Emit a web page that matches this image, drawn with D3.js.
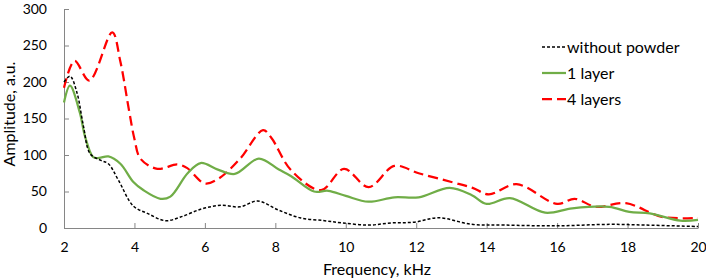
<!DOCTYPE html>
<html>
<head>
<meta charset="utf-8">
<script src="https://cdn.jsdelivr.net/npm/d3@7"></script>
<style>
  body { margin: 0; background: #fff; }
  text { font-family: Lato, "Open Sans", sans-serif; fill: #000; }
</style>
</head>
<body>
<div id="chart"></div>
<script>
// Data
const freqNoPowder = [2.0, 2.17, 2.37, 2.55, 2.74, 3.03, 3.26, 3.54, 3.97, 4.37, 4.88, 5.31, 5.9, 6.45, 7.0, 7.5, 8.07, 8.7, 9.4, 9.9, 10.64, 11.3, 11.95, 12.63, 13.58, 14.5, 16.0, 17.5, 18.5, 20.0]
const ampNoPowder = [200, 208, 185, 140, 102, 93, 88, 66, 30, 20, 10, 15, 26, 31, 29, 37, 25, 14, 10, 7, 4, 7, 8, 14, 5, 4, 3, 5, 4, 2]

const freq1Layer = [2.0, 2.17, 2.45, 2.6, 2.83, 3.0, 3.26, 3.6, 3.97, 4.25, 4.74, 5.02, 5.51, 5.88, 6.37, 6.85, 7.53, 8.1, 8.45, 9.1, 9.5, 10.0, 10.64, 11.38, 12.07, 12.95, 13.58, 14.0, 14.66, 15.66, 16.43, 17.48, 18.05, 18.63, 19.5, 20.0]
const amp1Layer = [172, 195, 158, 125, 97, 96, 98, 88, 63, 52, 40, 43, 75, 89, 80, 74, 95, 80, 71, 50, 51, 44, 36, 42, 42, 55, 45, 33, 41, 21, 27, 29, 22, 20, 10, 11]

const freq4Layers = [2.0, 2.3, 2.72, 3.37, 3.6, 3.85, 4.0, 4.17, 4.65, 5.22, 5.5, 6.0, 6.4, 7.0, 7.65, 7.88, 8.45, 9.3, 9.95, 10.65, 11.38, 12.07, 13.0, 13.6, 14.06, 14.85, 16.0, 16.5, 17.1, 17.95, 19.0, 20.0]
const amp4Layers = [192, 229, 202, 268, 228, 160, 122, 95, 81, 87, 82, 61, 68, 95, 134, 124, 79, 52, 81, 56, 85, 75, 63, 55, 46, 60, 33, 40, 29, 34, 15, 14]

const xTicks = [2, 4, 6, 8, 10, 12, 14, 16, 18, 20]
const yTicks = [0, 50, 100, 150, 200, 250, 300]

const series = [
  { name: 'without powder', x: freqNoPowder, y: ampNoPowder, color: '#000', width: 1.5, dash: '3,2' },
  { name: '1 layer', x: freq1Layer, y: amp1Layer, color: '#70ad47', width: 2.25, dash: null },
  { name: '4 layers', x: freq4Layers, y: amp4Layers, color: '#ff0000', width: 2.25, dash: '10,5' },
]

// Dimensions
const width = 706, height = 279
const margin = { top: 9, right: 8, bottom: 51, left: 64 }

const svg = d3.select('#chart').append('svg')
  .attr('width', width)
  .attr('height', height)

const xScale = d3.scaleLinear().domain([2, 20]).range([margin.left, width - margin.right])
const yScale = d3.scaleLinear().domain([0, 300]).range([height - margin.bottom, margin.top])

// Axes
const xAxis = d3.axisBottom(xScale).tickValues(xTicks).tickSize(-5).tickPadding(14).tickSizeOuter(0)
const xg = svg.append('g')
  .attr('transform', `translate(0,${yScale(0)})`)
  .call(xAxis)
const yAxis = d3.axisLeft(yScale).tickValues(yTicks).tickSize(-5).tickPadding(17).tickSizeOuter(0)
const yg = svg.append('g')
  .attr('transform', `translate(${xScale(2)},0)`)
  .call(yAxis)

for (const g of [xg, yg]) {
  g.select('.domain').attr('stroke', '#868686')
  g.selectAll('.tick line').attr('stroke', '#868686')
  g.selectAll('.tick text').attr('font-size', 14).attr('fill', '#000')
    .style('font-family', 'Lato, "Open Sans", sans-serif')
}

// Lines
const line = d3.line().curve(d3.curveCatmullRom.alpha(0.5))
svg.append('g').selectAll('path')
  .data(series.slice().reverse())
  .join('path')
  .attr('d', s => line(s.x.map((f, i) => [xScale(f), yScale(s.y[i])])))
  .attr('fill', 'none')
  .attr('stroke', s => s.color)
  .attr('stroke-width', s => s.width)
  .attr('stroke-dasharray', s => s.dash)

// Axis titles
svg.append('text')
  .attr('x', 377).attr('y', 275)
  .attr('text-anchor', 'middle')
  .attr('font-size', 16)
  .text('Frequency, kHz')
svg.append('text')
  .attr('transform', 'translate(15,114) rotate(-90)')
  .attr('text-anchor', 'middle')
  .attr('font-size', 16)
  .text('Amplitude, a.u.')

// Legend
const legend = svg.append('g').attr('transform', 'translate(542,47)')
const items = legend.selectAll('g').data(series).join('g')
  .attr('transform', (d, i) => `translate(0,${i * 26})`)
items.append('line')
  .attr('x1', 0).attr('x2', 24)
  .attr('stroke', d => d.color)
  .attr('stroke-width', d => d.width)
  .attr('stroke-dasharray', d => d.dash)
items.append('text')
  .attr('x', 25).attr('dy', '0.35em')
  .attr('font-size', 16)
  .text(d => d.name)
</script>
</body>
</html>
